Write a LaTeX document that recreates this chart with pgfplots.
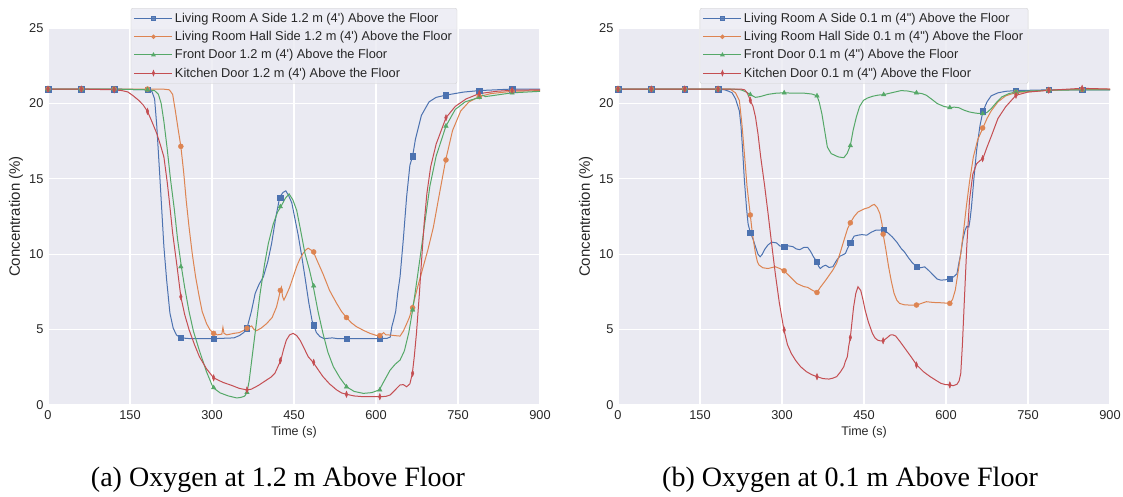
\documentclass[border=0pt]{standalone}
\usepackage{fontspec}
\setmainfont{Liberation Sans}
\newfontfamily\capfont{Liberation Serif}
\usepackage{pgfplots}
\pgfplotsset{compat=1.18}
\definecolor{seabg}{HTML}{EAEAF2}
\definecolor{sblue}{HTML}{4C72B0}
\definecolor{sorange}{HTML}{DD8452}
\definecolor{sgreen}{HTML}{55A868}
\definecolor{sred}{HTML}{C44E52}
\definecolor{stext}{HTML}{262626}
\pgfplotsset{
  seab/.style={
    scale only axis, width=492pt, height=377pt,
    xmin=0, xmax=900, ymin=0, ymax=25,
    xtick={0,150,...,900}, ytick={0,5,...,25},
    axis background/.style={fill=seabg},
    axis line style={draw=none},
    grid=major, grid style={white, line width=1.1pt},
    major tick length=0pt,
    /pgf/number format/assume math mode=true,
    tick label style={font=\fontsize{12.8}{13}\selectfont, text=stext},
    xticklabel style={yshift=-2pt},
    yticklabel style={xshift=-1pt},
    xlabel style={font=\fontsize{12.5}{13}\selectfont, text=stext},
    ylabel style={font=\fontsize{15}{16}\selectfont, text=stext},
    xlabel={Time (s)},
    ylabel={Concentration (\%)},
    xlabel style={at={(axis description cs:0.5,-0.0716)}, anchor=center},
    ylabel style={at={(axis description cs:-0.065,0.5)}, anchor=center},
    legend style={at={(0.5,1.053)}, anchor=north, draw=black!18, fill=seabg, fill opacity=0.8, text opacity=1,
      font=\fontsize{12.8}{14}\selectfont, text=stext, rounded corners=2pt, row sep=3.4pt,
      inner xsep=3pt, inner ysep=3pt},
    legend cell align=left,
    legend image code/.code={\draw[mark repeat=2,mark phase=2,##1] plot coordinates {(0pt,0pt) (19pt,0pt) (38pt,0pt)};},
    clip=false,
  },
  lb/.style={sblue, line width=1pt, mark=none},
  lo/.style={sorange, line width=1pt, mark=none},
  lg/.style={sgreen, line width=1pt, mark=none},
  lr/.style={sred, line width=1pt, mark=none},
  mb/.style={sblue, only marks, mark=square*, mark size=2.7pt, mark options={fill=sblue, draw=sblue}},
  mo/.style={sorange, only marks, mark=*, mark size=2.5pt, mark options={fill=sorange, draw=sorange}},
  mg/.style={sgreen, only marks, mark=triangle*, mark size=2.6pt, mark options={fill=sgreen, draw=sgreen}},
  mr/.style={sred, only marks, mark=diamond*, mark size=3.2pt, mark options={fill=sred, draw=sred, xscale=0.55}},
}
\begin{document}
\begin{tikzpicture}
\useasboundingbox (0,0) rectangle (1123pt,497pt);
% ---------------- Left: 1.2 m ----------------
\begin{axis}[seab, at={(48pt,92pt)}, anchor=south west]
\addlegendimage{sblue, line width=1pt, mark=square*, mark size=1.8pt, mark options={fill=sblue}}
\addlegendentry{Living Room A Side 1.2 m (4\textquotesingle) Above the Floor}
\addlegendimage{sorange, line width=1pt, mark=*, mark size=1.7pt, mark options={fill=sorange}}
\addlegendentry{Living Room Hall Side 1.2 m (4\textquotesingle) Above the Floor}
\addlegendimage{sgreen, line width=1pt, mark=triangle*, mark size=1.8pt, mark options={fill=sgreen}}
\addlegendentry{Front Door 1.2 m (4\textquotesingle) Above the Floor}
\addlegendimage{sred, line width=1pt, mark=diamond*, mark size=2.3pt, mark options={fill=sred, xscale=0.55}}
\addlegendentry{Kitchen Door 1.2 m (4\textquotesingle) Above the Floor}
% blue
\addplot[lb, forget plot] coordinates {(0,20.95) (61,20.95) (121,20.95) (182,20.9) (190,20.8) (195,20.3) (199,18.5) (204,15.5) (208,13) (212,10.5) (217,8.3) (223,6.1) (229,5.1) (235,4.64) (243,4.45) (260,4.4) (303,4.4) (340,4.45) (350,4.6) (358,4.8) (364,5.09) (372,6.2) (379,7.4) (386,8) (394,8.5) (402,9.5) (409,10.7) (417,12.5) (424,13.8) (430,14.1) (435,14.2) (440,13.9) (446,13.4) (452,12.3) (458,11.2) (464,9.9) (470,8.5) (477,6.8) (483,5.6) (486,5.3) (491,4.8) (497.6,4.53) (505,4.4) (520,4.45) (530,4.4) (546,4.4) (570,4.4) (607,4.4) (620,4.42) (626,4.5) (629,5.2) (632,5.6) (636,6.2) (640,7.5) (644,8.5) (650,11) (656,13.8) (662,15.9) (667,16.5) (672,17.6) (683,19.2) (697,20.1) (710,20.4) (728,20.55) (760,20.75) (789,20.85) (849,20.95) (900,20.95)};
\addplot[mb, forget plot] coordinates {(0,20.95) (61,20.95) (121,20.95) (182,20.9) (243,4.45) (303,4.4) (364,5.09) (425,13.75) (486,5.3) (546,4.4) (607,4.4) (667,16.5) (728,20.55) (789,20.85) (849,20.95)};
% orange
\addplot[lo, forget plot] coordinates {(0,20.95) (61,20.95) (121,20.95) (182,20.95) (210,20.95) (222,20.9) (228,20.6) (233,19.5) (238,18.3) (243,17.15) (248,15.5) (253,13.5) (258,11.8) (264,10) (270,8.5) (276,7.3) (282,6.2) (290,5.4) (296,5.0) (303,4.75) (310,4.65) (318,4.7) (320,5.15) (322,4.75) (327,4.65) (340,4.75) (350,4.8) (358,4.95) (364,5.09) (372.5,5.24) (377,5.0) (381.5,4.93) (390,5.1) (400,5.4) (410,5.8) (418,6.5) (422,7.1) (425,7.6) (427,7.8) (429,7.2) (431.6,6.96) (436,7.3) (442,7.8) (448.6,8.5) (455,9.2) (461,9.7) (466.8,10.06) (472,10.3) (476,10.4) (480,10.3) (485,10.2) (492,9.6) (503,8.7) (515,7.6) (528,6.74) (537,6.2) (546,5.8) (555,5.45) (564,5.2) (577,4.95) (589,4.75) (600,4.62) (607,4.6) (611,4.7) (614,4.8) (618,4.65) (625.6,4.64) (635,4.6) (644,4.57) (650,4.9) (655,5.3) (661,5.8) (666.5,6.45) (676,7.8) (686.6,9.2) (695,10.3) (705,11.8) (715,13.8) (727.5,16.25) (740,18.2) (755,19.5) (770,20.1) (789,20.45) (810,20.65) (849,20.8) (900,20.85)};
\addplot[mo, forget plot] coordinates {(0,20.95) (61,20.95) (121,20.95) (182,20.95) (243,17.15) (303,4.75) (364,5.09) (425,7.6) (486,10.15) (546,5.8) (607,4.6) (667,6.45) (728,16.25) (789,20.45) (849,20.8)};
% green
\addplot[lg, forget plot] coordinates {(0,20.95) (61,20.95) (121,20.95) (182,20.9) (195,20.85) (202,20.6) (207,20.0) (212,18.8) (218,17) (224,15) (231,13) (237,11) (244,9.17) (250,7.8) (258,6.2) (266,4.9) (277,3.6) (290,2.2) (302,1.15) (315,0.8) (330,0.6) (345,0.47) (351,0.49) (357,0.55) (360,0.6) (364,0.83) (368,1.6) (372.7,2.98) (380,5.1) (388,7.4) (396,9.3) (403,10.7) (412,12.0) (420,12.8) (426,13.15) (434,13.7) (441,14.0) (448,13.6) (455,12.9) (462,11.6) (470,10.06) (478,9.0) (485,7.9) (494,6.2) (503,4.75) (512,3.5) (522,2.54) (534,1.8) (546,1.21) (560,0.9) (577,0.77) (592,0.82) (606,1.0) (615,1.6) (625.6,2.3) (635,2.7) (644,2.98) (652,3.6) (660,4.8) (667,6.3) (673,7.8) (680,9.6) (689,12.0) (698.5,14.5) (710,16.5) (728,18.5) (745,19.6) (763,20.1) (789,20.4) (795,20.55) (800,20.45) (810,20.5) (849,20.7) (900,20.8)};
\addplot[mg, forget plot] coordinates {(0,20.95) (61,20.95) (121,20.95) (182,20.9) (243,9.17) (303,1.15) (364,0.83) (425,13.15) (486,7.9) (546,1.2) (607,1.0) (667,6.3) (728,18.5) (789,20.4) (849,20.7)};
% red
\addplot[lr, forget plot] coordinates {(0,20.95) (61,20.95) (121,20.9) (135,20.85) (146,20.76) (156,20.5) (166,20.2) (174,19.9) (182,19.47) (190,18.8) (199,18.0) (206,17.2) (212,16.45) (218,14.8) (222,13.5) (228,11.4) (236,9.2) (243,7.18) (250,6.0) (258,5.0) (268,4.0) (277,3.2) (290,2.4) (303,1.8) (320,1.5) (336,1.3) (350,1.1) (364,1.0) (372,1.05) (385,1.3) (400,1.66) (408,1.85) (415,2.1) (420,2.5) (426,2.98) (431,3.7) (436,4.3) (442,4.65) (448.6,4.75) (455,4.6) (461,4.3) (468,3.8) (476,3.2) (485,2.83) (494,2.35) (503,1.88) (515,1.4) (528,1.0) (537,0.8) (546,0.71) (560,0.6) (577,0.55) (606,0.55) (618,0.57) (625.6,0.66) (635,1.0) (644,1.33) (650,1.35) (656,1.21) (662,1.4) (666.5,2.1) (670,3.2) (674,4.75) (679,7.2) (683.4,9.6) (688,12) (693,14.0) (700,15.8) (710,17.3) (728,19.05) (745,19.8) (765,20.3) (789,20.65) (820,20.8) (849,20.87) (900,20.9)};
\addplot[mr, forget plot] coordinates {(0,20.95) (61,20.95) (121,20.9) (182,19.47) (243,7.18) (303,1.8) (364,1.0) (425,2.95) (486,2.83) (546,0.71) (607,0.55) (667,2.1) (728,19.05) (789,20.65) (849,20.87)};
\end{axis}
% ---------------- Right: 0.1 m ----------------
\begin{axis}[seab, at={(618pt,92pt)}, anchor=south west]
\addlegendimage{sblue, line width=1pt, mark=square*, mark size=1.8pt, mark options={fill=sblue}}
\addlegendentry{Living Room A Side 0.1 m (4\textquotedbl) Above the Floor}
\addlegendimage{sorange, line width=1pt, mark=*, mark size=1.7pt, mark options={fill=sorange}}
\addlegendentry{Living Room Hall Side 0.1 m (4\textquotedbl) Above the Floor}
\addlegendimage{sgreen, line width=1pt, mark=triangle*, mark size=1.8pt, mark options={fill=sgreen}}
\addlegendentry{Front Door 0.1 m (4\textquotedbl) Above the Floor}
\addlegendimage{sred, line width=1pt, mark=diamond*, mark size=2.3pt, mark options={fill=sred, xscale=0.55}}
\addlegendentry{Kitchen Door 0.1 m (4\textquotedbl) Above the Floor}
% blue
\addplot[lb, forget plot] coordinates {(0,20.95) (61,20.95) (122,20.95) (183,20.95) (195,20.9) (203,20.8) (208.7,20.7) (215,20.3) (222,19.5) (225,18.5) (228,16.9) (231,15) (235,13.1) (238,12.0) (242,11.44) (247,11) (251.5,10.5) (256,10.0) (260,9.83) (264,10.0) (268,10.3) (274,10.6) (281,10.8) (290,10.75) (296,10.55) (303.6,10.5) (312,10.55) (320,10.5) (326,10.35) (332.5,10.3) (340,10.45) (347,10.45) (352,10.2) (358,9.8) (364,9.5) (367,9.2) (370,9.05) (375,9.2) (380,9.27) (386,9.12) (393,9.17) (400,9.6) (406,9.87) (411,9.95) (416,10.05) (420,10.4) (425,10.75) (432,11.2) (439,11.26) (446,11.3) (455,11.26) (463,11.45) (472,11.6) (479,11.6) (486,11.64) (494,11.4) (501.6,11.15) (510,10.8) (518,10.38) (524,10.15) (531,9.78) (538,9.45) (546.5,9.16) (553,9.1) (561,9.16) (569,8.9) (577,8.6) (584,8.35) (590.5,8.28) (599,8.3) (607,8.39) (614,8.5) (620,8.7) (624,9.5) (627,10.05) (631,11.0) (635,11.6) (638,11.85) (641.8,11.8) (644,12.3) (646.5,13.1) (651,15) (656,16.9) (662,18.5) (667.5,19.47) (675,20.1) (682.6,20.5) (695,20.7) (709,20.8) (728,20.85) (788,20.9) (849,20.9) (900,20.9)};
\addplot[mb, forget plot] coordinates {(0,20.95) (61,20.95) (122,20.95) (183,20.95) (242,11.44) (304,10.5) (364,9.5) (425,10.75) (486,11.64) (546,9.16) (607,8.39) (667,19.47) (728,20.85) (788,20.9) (849,20.9)};
% orange
\addplot[lo, forget plot] coordinates {(0,20.95) (61,20.95) (122,20.95) (183,20.95) (205,20.95) (215,20.7) (222,20.2) (227,18.5) (231.7,16.45) (236,14.5) (242,12.6) (246,11.3) (251.5,10.05) (255,9.5) (258,9.28) (265,9.1) (274.5,9.05) (287.7,9.17) (296,9.05) (303.6,8.9) (315,8.5) (327,8.06) (340,7.85) (347,7.8) (356,7.6) (364,7.46) (370,7.8) (380,8.28) (393,8.95) (400,9.4) (406,10.05) (414,11.0) (420,11.7) (425,12.08) (432,12.5) (439,12.8) (450,13.0) (459,13.1) (465,13.25) (469,13.3) (474,13.1) (479,12.7) (483,12.0) (485,11.33) (490,10.3) (495,9.17) (500,8.2) (505,7.4) (510,6.95) (515,6.74) (523,6.65) (531,6.63) (546.5,6.63) (556,6.75) (564,6.85) (577,6.8) (590.5,6.78) (607,6.74) (612,7.0) (617,7.62) (622,8.8) (627,10.05) (632,11.5) (637,13.1) (643,14.8) (650,16.45) (658,17.6) (667.5,18.37) (675,19.0) (682.6,19.5) (695,20.1) (709,20.5) (728,20.72) (760,20.8) (788,20.88) (849,20.92) (900,20.95)};
\addplot[mo, forget plot] coordinates {(0,20.95) (61,20.95) (122,20.95) (183,20.95) (242,12.6) (304,8.9) (364,7.46) (425,12.08) (485,11.33) (546,6.63) (607,6.74) (667,18.37) (728,20.72) (788,20.88) (849,20.92)};
% green
\addplot[lg, forget plot] coordinates {(0,20.95) (61,20.95) (122,20.95) (183,20.95) (210,20.95) (225,20.9) (235,20.75) (242,20.58) (251.5,20.4) (260,20.45) (274.5,20.6) (290,20.68) (303.6,20.7) (320,20.68) (340,20.68) (355,20.62) (364,20.5) (368,20.1) (373,19.3) (378,18.2) (383,17.1) (390,16.67) (403,16.45) (413,16.4) (419,16.67) (425,17.2) (430,18.2) (436,19.1) (442,19.8) (449,20.2) (456,20.35) (465.4,20.47) (476,20.55) (486,20.58) (500,20.7) (518,20.85) (530,20.82) (546.5,20.7) (556,20.65) (564,20.54) (573,20.3) (584,19.99) (596,19.8) (607,19.72) (615,19.75) (623,19.72) (633,19.55) (643,19.43) (655,19.35) (667.5,19.32) (675,19.4) (682.6,19.65) (692,20.05) (702,20.43) (715,20.65) (728,20.76) (750,20.82) (788,20.87) (849,20.9) (900,20.9)};
\addplot[mg, forget plot] coordinates {(0,20.95) (61,20.95) (122,20.95) (183,20.95) (242,20.58) (304,20.7) (364,20.5) (425,17.2) (486,20.58) (546,20.7) (607,19.72) (667,19.32) (728,20.76) (788,20.87) (849,20.9)};
% red
\addplot[lr, forget plot] coordinates {(0,20.95) (61,20.95) (122,20.95) (183,20.95) (215,20.95) (225,20.95) (231.7,20.9) (237,20.65) (242,20.2) (247,19.8) (251.5,19.1) (256,18.0) (261,16.45) (268,14.6) (274.5,12.7) (281,10.7) (287.7,8.72) (295,6.8) (303.6,4.97) (310,4.0) (317,3.42) (325,2.95) (334,2.54) (345,2.2) (355,2.0) (364,1.88) (375,1.75) (386,1.72) (393,1.78) (400,1.88) (407,2.2) (413,2.54) (416,2.9) (419.5,3.2) (422,3.9) (425,4.48) (428,5.5) (431,6.5) (435,7.4) (439,7.84) (444,7.6) (448,7.0) (452,6.3) (458,5.5) (465.4,4.75) (470,4.45) (475,4.3) (480,4.25) (485,4.26) (492,4.45) (498,4.64) (503,4.65) (508,4.57) (516,4.2) (525,3.75) (536,3.2) (546.5,2.65) (559,2.2) (571,1.88) (581,1.65) (590.5,1.44) (598,1.36) (607,1.33) (613,1.28) (620,1.37) (624,1.6) (627,2.1) (630,4.0) (633.6,6.96) (638,10.5) (643,13.6) (649,15.3) (656,16.0) (662,16.2) (667.5,16.34) (675,17.1) (682.6,17.8) (695,19.0) (709,19.77) (728,20.54) (750,20.75) (788,20.87) (849,21.0) (900,20.95)};
\addplot[mr, forget plot] coordinates {(0,20.95) (61,20.95) (122,20.95) (183,20.95) (242,20.2) (304,4.97) (364,1.88) (425,4.48) (485,4.26) (546,2.65) (607,1.33) (667,16.34) (728,20.54) (788,20.87) (849,21.0)};
\end{axis}
% captions
\node[anchor=base, font=\capfont\fontsize{28}{30}\selectfont] at (278pt,10pt) {(a) Oxygen at 1.2 m Above Floor};
\node[anchor=base, font=\capfont\fontsize{28}{30}\selectfont] at (850pt,10pt) {(b) Oxygen at 0.1 m Above Floor};
\end{tikzpicture}
\end{document}
